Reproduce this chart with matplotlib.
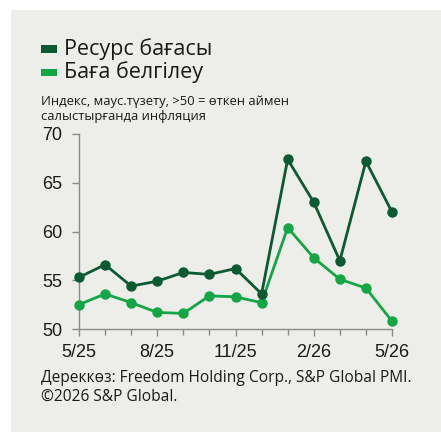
import numpy as np
import matplotlib.pyplot as plt
from matplotlib.patches import Rectangle

# Данные (индекс PMI)
months = ['5/25', '6/25', '7/25', '8/25', '9/25', '10/25', '11/25', '12/25',
          '1/26', '2/26', '3/26', '4/26', '5/26']
resource_price = [55.3, 56.6, 54.4, 54.9, 55.8, 55.6, 56.2, 53.6,
                  67.4, 63.0, 57.0, 67.2, 62.0]
price_setting = [52.5, 53.6, 52.7, 51.7, 51.6, 53.4, 53.3, 52.7,
                 60.4, 57.3, 55.1, 54.2, 50.8]
tick_labels = ['5/25', '8/25', '11/25', '2/26', '5/26']
y_ticks = [50, 55, 60, 65, 70]

dark = '#0b5a32'
light = '#14a544'
bg = '#ededea'
axis_grey = '#8a8a8a'

fig = plt.figure(figsize=(4.41, 4.32), dpi=100)
fig.patch.set_facecolor('white')
fig.patches.append(Rectangle((11 / 441, 0), 1, 1 - 10 / 432, transform=fig.transFigure,
                             facecolor=bg, edgecolor='none', zorder=-10))

ax = fig.add_axes([79 / 441, 1 - 329 / 432, (392 - 79) / 441, (329 - 134) / 432])
ax.set_facecolor('none')

x = np.arange(len(months))
ax.plot(x, price_setting, color=light, lw=2.0, marker='o', ms=6.5, zorder=3, clip_on=False)
ax.plot(x, resource_price, color=dark, lw=2.0, marker='o', ms=6.5, zorder=4, clip_on=False)

ax.set_xlim(0, 12)
ax.set_ylim(50, 70)
ax.set_xticks(x[::3])
ax.set_xticklabels(tick_labels, fontfamily='Liberation Sans', fontsize=13, color='#1a1a1a')
ax.set_xticks(x, minor=True)
ax.set_yticks(y_ticks)
ax.set_yticklabels([str(v) for v in y_ticks], fontfamily='Liberation Sans', fontsize=13,
                   color='#1a1a1a')

for s in ['top', 'right']:
    ax.spines[s].set_visible(False)
for s in ['left', 'bottom']:
    ax.spines[s].set_color(axis_grey)
    ax.spines[s].set_linewidth(1.0)
ax.tick_params(axis='both', which='both', color=axis_grey, width=1.0, direction='out')
ax.tick_params(axis='x', which='major', length=5, pad=6)
ax.tick_params(axis='x', which='minor', length=4)
ax.tick_params(axis='y', which='major', length=5, pad=7)

# Легенда
font_txt = ['Open Sans', 'DejaVu Sans']
for i, (lab, col) in enumerate([('Ресурс бағасы', dark), ('Баға белгілеу', light)]):
    yc = 1 - (49 + 23 * i) / 432
    fig.patches.append(Rectangle((41 / 441, yc - 3.5 / 432), 16 / 441, 7 / 432,
                                 transform=fig.transFigure, facecolor=col, edgecolor='none'))
    fig.text(64 / 441, yc, lab, fontsize=15.5, family=font_txt, color='#1a1a1a', va='center')

fig.text(41 / 441, 1 - 101 / 432, 'Индекс, мауc.түзету, >50 = өткен аймен',
         fontsize=9.4, family=font_txt, color='#1a1a1a', va='center')
fig.text(41 / 441, 1 - 117 / 432, 'салыстырғанда инфляция',
         fontsize=9.4, family=font_txt, color='#1a1a1a', va='center')

fig.text(41 / 441, 1 - 378 / 432, 'Дереккөз: Freedom Holding Corp., S&P Global PMI.',
         fontsize=11.2, family=font_txt, color='#1a1a1a', va='center')
fig.text(41 / 441, 1 - 397 / 432, '©2026 S&P Global.',
         fontsize=11.2, family=font_txt, color='#1a1a1a', va='center')

fig.savefig('out.png', dpi=100, facecolor=fig.get_facecolor())
